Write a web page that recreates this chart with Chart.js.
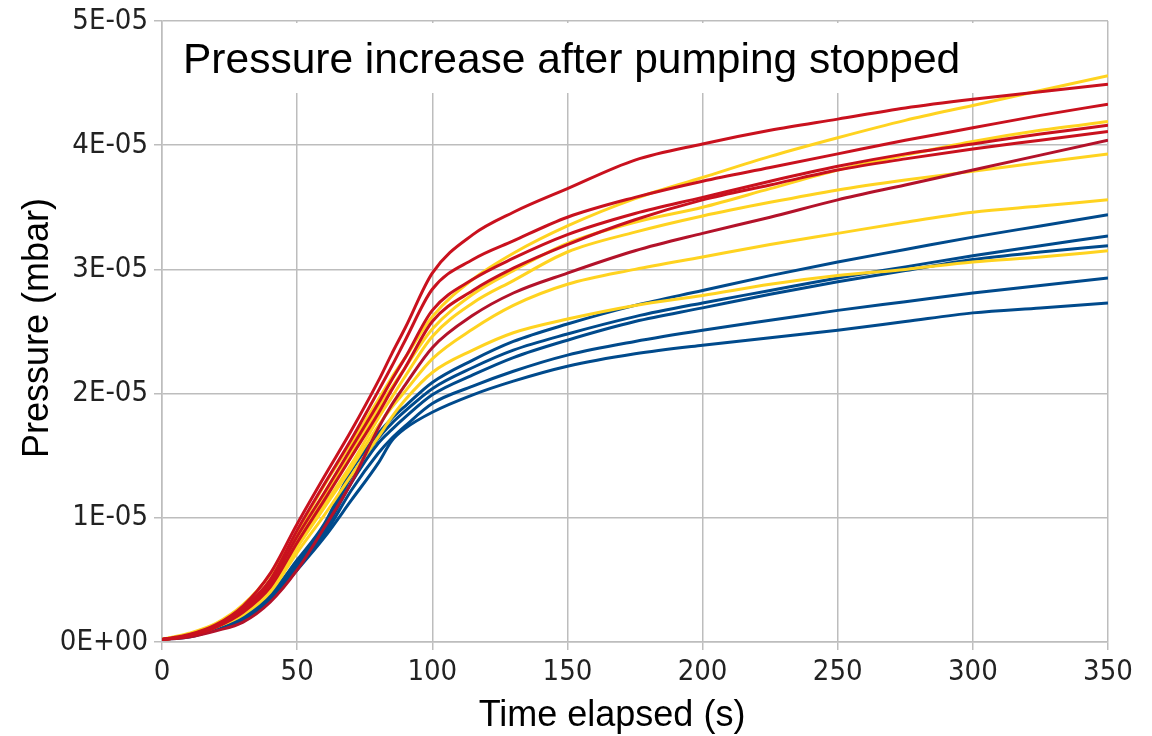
<!DOCTYPE html>
<html>
<head>
<meta charset="utf-8">
<script src="https://cdn.jsdelivr.net/npm/chart.js@4"></script>
<style>
  body { margin: 0; background: #ffffff; }
  #wrap { width: 1152px; height: 736px; }
</style>
</head>
<body>
<div id="wrap"><canvas id="myChart" width="1152" height="736"></canvas></div>
<script>
// data, pressure in units of 1E-05 mbar
let timeS = [0, 10, 20, 30, 40, 50, 60, 70, 80, 85, 90, 100, 115, 130, 150, 175, 200, 225, 250, 275, 300, 325, 350];

let red1 = [0.02, 0.06, 0.14, 0.29, 0.55, 0.95, 1.33, 1.70, 2.10, 2.32, 2.53, 2.97, 3.28, 3.46, 3.65, 3.88, 4.01, 4.12, 4.21, 4.30, 4.37, 4.43, 4.49];
let red2 = [0.02, 0.05, 0.13, 0.27, 0.50, 0.90, 1.27, 1.63, 2.02, 2.22, 2.43, 2.84, 3.08, 3.23, 3.42, 3.58, 3.71, 3.82, 3.93, 4.04, 4.14, 4.24, 4.33];
let red3 = [0.02, 0.05, 0.12, 0.26, 0.47, 0.85, 1.20, 1.56, 1.92, 2.11, 2.29, 2.67, 2.92, 3.09, 3.28, 3.45, 3.58, 3.71, 3.83, 3.93, 4.01, 4.09, 4.16];
let red4 = [0.02, 0.05, 0.12, 0.24, 0.44, 0.80, 1.14, 1.49, 1.84, 2.03, 2.21, 2.58, 2.83, 3.01, 3.20, 3.40, 3.56, 3.68, 3.80, 3.89, 3.97, 4.04, 4.11];
let red5 = [0.02, 0.04, 0.09, 0.16, 0.32, 0.58, 0.92, 1.28, 1.72, 1.91, 2.07, 2.37, 2.63, 2.81, 2.97, 3.15, 3.29, 3.42, 3.56, 3.68, 3.80, 3.92, 4.04];

let yellow1 = [0.02, 0.07, 0.15, 0.30, 0.54, 0.88, 1.26, 1.60, 1.95, 2.13, 2.29, 2.62, 2.92, 3.13, 3.35, 3.57, 3.74, 3.91, 4.06, 4.20, 4.32, 4.44, 4.56];
let yellow2 = [0.02, 0.06, 0.13, 0.27, 0.49, 0.82, 1.18, 1.52, 1.88, 2.05, 2.21, 2.52, 2.80, 2.99, 3.21, 3.38, 3.50, 3.65, 3.80, 3.92, 4.03, 4.12, 4.19];
let yellow3 = [0.02, 0.06, 0.13, 0.25, 0.46, 0.78, 1.10, 1.43, 1.80, 1.97, 2.14, 2.46, 2.73, 2.91, 3.14, 3.30, 3.43, 3.54, 3.64, 3.72, 3.79, 3.86, 3.93];
let yellow4 = [0.02, 0.05, 0.12, 0.23, 0.42, 0.76, 1.08, 1.40, 1.74, 1.89, 2.02, 2.28, 2.52, 2.71, 2.88, 3.00, 3.10, 3.20, 3.29, 3.38, 3.46, 3.51, 3.56];
let yellow5 = [0.02, 0.05, 0.12, 0.22, 0.40, 0.72, 1.02, 1.34, 1.65, 1.81, 1.95, 2.17, 2.35, 2.49, 2.60, 2.71, 2.79, 2.88, 2.95, 3.00, 3.06, 3.10, 3.15];

let blue1 = [0.02, 0.05, 0.11, 0.20, 0.38, 0.66, 0.95, 1.38, 1.68, 1.80, 1.90, 2.09, 2.27, 2.42, 2.56, 2.71, 2.83, 2.95, 3.06, 3.16, 3.26, 3.35, 3.44];
let blue2 = [0.02, 0.05, 0.11, 0.20, 0.37, 0.64, 0.92, 1.33, 1.64, 1.76, 1.86, 2.04, 2.21, 2.35, 2.48, 2.62, 2.73, 2.83, 2.93, 3.02, 3.11, 3.19, 3.27];
let blue3 = [0.02, 0.05, 0.11, 0.19, 0.36, 0.62, 0.89, 1.28, 1.60, 1.71, 1.81, 1.99, 2.15, 2.29, 2.43, 2.58, 2.69, 2.80, 2.90, 2.99, 3.08, 3.14, 3.19];
let blue4 = [0.02, 0.05, 0.10, 0.19, 0.35, 0.60, 0.86, 1.22, 1.52, 1.64, 1.74, 1.92, 2.06, 2.18, 2.31, 2.42, 2.51, 2.59, 2.67, 2.74, 2.81, 2.87, 2.93];
let blue5 = [0.02, 0.04, 0.10, 0.18, 0.34, 0.58, 0.84, 1.14, 1.44, 1.62, 1.72, 1.85, 1.99, 2.10, 2.22, 2.32, 2.39, 2.45, 2.51, 2.58, 2.65, 2.69, 2.73];

let yTickLabels = ['0E+00', '1E-05', '2E-05', '3E-05', '4E-05', '5E-05'];
let chartTitle = 'Pressure increase after pumping stopped';
let xAxisTitle = 'Time elapsed (s)';
let yAxisTitle = 'Pressure (mbar)';

let redColor = '#c9111e';
let darkRedColor = '#b3122a';
let yellowColor = '#ffd320';
let blueColor = '#004a8c';

function makeSeries(values, color) {
    return {
        data: timeS.map(function (t, i) { return { x: t, y: values[i] }; }),
        borderColor: color,
        borderWidth: 3,
        pointRadius: 0,
        cubicInterpolationMode: 'monotone',
        fill: false
    };
}

// first dataset is drawn on top
let datasets = [
    makeSeries(red1, redColor),
    makeSeries(red2, redColor),
    makeSeries(red3, redColor),
    makeSeries(red4, redColor),
    makeSeries(red5, darkRedColor),
    makeSeries(yellow1, yellowColor),
    makeSeries(yellow2, yellowColor),
    makeSeries(yellow3, yellowColor),
    makeSeries(yellow4, yellowColor),
    makeSeries(yellow5, yellowColor),
    makeSeries(blue1, blueColor),
    makeSeries(blue2, blueColor),
    makeSeries(blue3, blueColor),
    makeSeries(blue4, blueColor),
    makeSeries(blue5, blueColor)
];

// white title box inside the plot, plus the axis titles
let titleBox = {
    id: 'titleBox',
    afterDatasetsDraw(chart) {
        let ctx = chart.ctx;
        let area = chart.chartArea;
        ctx.save();
        ctx.fillStyle = '#ffffff';
        ctx.fillRect(area.left + 1, area.top + 2, 812, 70);
        ctx.fillStyle = '#000000';
        ctx.font = '42.5px "Liberation Sans", Arial, sans-serif';
        ctx.textBaseline = 'middle';
        ctx.fillText(chartTitle, area.left + 21, area.top + 40);

        ctx.font = '36px "Liberation Sans", Arial, sans-serif';
        ctx.textAlign = 'center';
        ctx.fillText(xAxisTitle, 612, 716);

        ctx.translate(38, 328);
        ctx.rotate(-Math.PI / 2);
        ctx.fillText(yAxisTitle, 0, 0);
        ctx.restore();
    }
};

let tickFont = { family: '"Liberation Sans Narrow", "DejaVu Sans Condensed", sans-serif', size: 29, lineHeight: 1.0 };

let ctx = document.getElementById('myChart').getContext('2d');
let chart = new Chart(ctx, {
    type: 'line',
    data: { datasets: datasets },
    plugins: [titleBox],
    options: {
        responsive: false,
        animation: false,
        layout: { padding: { top: 21, right: 44, left: 0, bottom: 0 } },
        plugins: {
            legend: { display: false },
            tooltip: { enabled: false }
        },
        scales: {
            x: {
                type: 'linear',
                min: 0,
                max: 350,
                ticks: { stepSize: 50, color: '#222222', font: tickFont, padding: 8, maxRotation: 0 },
                grid: { color: '#bdbdbd', lineWidth: 1.5, tickLength: 8 },
                border: { color: '#bdbdbd', width: 1.5 },
                afterFit(scale) { scale.height = 94; }
            },
            y: {
                min: 0,
                max: 5,
                ticks: {
                    stepSize: 1,
                    color: '#222222',
                    font: tickFont,
                    padding: 6,
                    callback: function (value) { return yTickLabels[Math.round(value)]; }
                },
                grid: { color: '#bdbdbd', lineWidth: 1.5, tickLength: 8 },
                border: { color: '#bdbdbd', width: 1.5 },
                afterFit(scale) { scale.width = 162; }
            }
        }
    }
});
</script>
</body>
</html>
